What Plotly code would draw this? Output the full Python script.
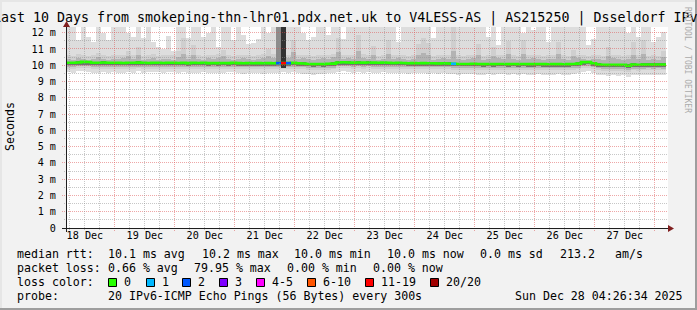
import math
import plotly.graph_objects as go
import pandas as pd

# ------------------------------------------------------------------ data
series_start = "2025-12-18 04:26:34"
bin_hours = 2   # each value below covers 2 hours (120 bins = 10 days)

# outermost smoke (min .. max of the 20 pings), ms
smoke_max = [
    12.6, 12.6, 11.55, 12.6, 11.75, 11.4, 12.6, 12.0, 11.55, 12.6,
    12.6, 12.6, 12.0, 11.75, 12.6, 11.7, 12.6, 11.4, 11.1, 11.0,
    11.8, 10.9, 12.6, 12.6, 11.7, 12.6, 12.6, 11.75, 12.0, 12.6,
    11.1, 12.6, 12.6, 11.55, 12.6, 11.85, 11.3, 11.35, 11.6, 12.6,
    12.0, 12.6, 12.6, 12.6, 12.6, 12.6, 12.6, 12.0, 11.55, 11.75,
    12.6, 12.6, 11.85, 12.6, 12.6, 11.6, 12.6, 12.6, 12.6, 12.6,
    12.6, 12.6, 12.6, 12.6, 12.6, 12.6, 11.4, 12.6, 12.6, 12.6,
    12.6, 12.6, 12.6, 11.7, 12.6, 12.6, 12.6, 12.6, 12.6, 12.6,
    12.6, 12.6, 12.6, 12.6, 11.75, 12.6, 11.25, 12.6, 12.6, 12.6,
    12.6, 12.0, 12.6, 12.15, 12.6, 12.6, 11.4, 12.6, 12.6, 12.6,
    12.6, 12.6, 12.6, 12.6, 11.25, 11.6, 12.6, 12.6, 12.6, 12.6,
    12.6, 12.6, 12.0, 12.6, 11.75, 12.6, 12.6, 11.4, 11.75, 12.05,
]
smoke_min = [
    9.6, 9.55, 9.62, 9.65, 9.58, 9.5, 9.55, 9.6, 9.52, 9.6,
    9.55, 9.5, 9.6, 9.55, 9.62, 9.5, 9.56, 9.6, 9.58, 9.5,
    9.6, 9.58, 9.5, 9.6, 9.55, 9.52, 9.5, 9.6, 9.55, 9.52,
    9.55, 9.5, 9.58, 9.6, 9.5, 9.45, 9.55, 9.5, 9.52, 9.48,
    9.55, 9.5, 9.55, 9.6, 9.52, 9.58, 9.5, 9.48, 9.45, 9.42,
    9.48, 9.45, 9.5, 9.52, 9.6, 9.62, 9.6, 9.55, 9.6, 9.55,
    9.6, 9.55, 9.52, 9.58, 9.55, 9.5, 9.55, 9.52, 9.48, 9.5,
    9.5, 9.52, 9.48, 9.5, 9.45, 9.5, 9.48, 9.45, 9.42, 9.45,
    9.45, 9.48, 9.42, 9.4, 9.45, 9.42, 9.45, 9.48, 9.42, 9.45,
    9.42, 9.45, 9.4, 9.42, 9.45, 9.4, 9.38, 9.42, 9.45, 9.4,
    9.42, 9.45, 9.5, 9.6, 9.62, 9.5, 9.4, 9.38, 9.35, 9.38,
    9.35, 9.38, 9.3, 9.4, 9.38, 9.4, 9.42, 9.4, 9.42, 9.4,
]
# second smoke band
smoke_hi2 = [
    10.6, 10.55, 10.7, 10.6, 10.55, 10.65, 10.75, 10.6, 10.55, 10.6,
    10.6, 10.65, 10.9, 10.6, 11.1, 10.55, 10.6, 10.7, 10.55, 10.6,
    10.65, 10.6, 10.9, 11.65, 10.6, 11.25, 10.6, 10.55, 10.65, 10.6,
    10.7, 10.95, 10.6, 10.55, 10.6, 10.65, 10.6, 10.55, 10.6, 10.7,
    11.0, 10.7, 10.7, 10.7, 10.65, 11.55, 10.6, 10.65, 10.6, 10.55,
    10.6, 10.65, 10.6, 10.7, 11.7, 10.6, 10.65, 10.6, 11.85, 10.7,
    10.6, 11.2, 10.55, 10.6, 11.55, 10.6, 10.65, 10.6, 10.55, 10.6,
    11.3, 11.7, 11.35, 10.55, 10.6, 10.65, 10.6, 12.6, 10.6, 10.55,
    10.6, 10.65, 11.3, 10.55, 10.6, 11.1, 10.65, 10.6, 11.5, 10.6,
    10.55, 11.55, 10.6, 10.65, 10.6, 10.55, 10.6, 10.6, 11.4, 10.6,
    10.55, 10.95, 10.65, 10.6, 10.55, 10.6, 10.6, 10.55, 11.1, 10.65,
    10.6, 10.55, 10.6, 11.4, 10.6, 11.55, 10.55, 10.6, 10.55, 10.9,
]
smoke_lo2 = [
    9.8, 9.78, 9.82, 9.84, 9.82, 9.79, 9.78, 9.8, 9.79, 9.8,
    9.79, 9.78, 9.8, 9.79, 9.81, 9.78, 9.79, 9.8, 9.8, 9.78,
    9.8, 9.8, 9.78, 9.8, 9.77, 9.79, 9.78, 9.8, 9.77, 9.78,
    9.77, 9.78, 9.78, 9.8, 9.77, 9.76, 9.78, 9.76, 9.77, 9.76,
    9.78, 9.76, 9.77, 9.78, 9.77, 9.8, 9.76, 9.75, 9.72, 9.71,
    9.72, 9.71, 9.73, 9.74, 9.82, 9.83, 9.82, 9.8, 9.82, 9.8,
    9.82, 9.8, 9.79, 9.8, 9.79, 9.78, 9.79, 9.78, 9.76, 9.77,
    9.76, 9.77, 9.76, 9.76, 9.75, 9.76, 9.75, 9.73, 9.72, 9.72,
    9.72, 9.73, 9.72, 9.71, 9.72, 9.71, 9.72, 9.72, 9.71, 9.72,
    9.71, 9.72, 9.71, 9.71, 9.72, 9.71, 9.7, 9.71, 9.71, 9.7,
    9.71, 9.72, 9.74, 9.83, 9.84, 9.76, 9.69, 9.67, 9.66, 9.67,
    9.66, 9.67, 9.6, 9.68, 9.67, 9.68, 9.69, 9.68, 9.69, 9.68,
]
# third smoke band
smoke_hi3 = [
    10.4, 10.35, 10.45, 10.4, 10.35, 10.4, 10.5, 10.4, 10.35, 10.4,
    10.4, 10.45, 10.55, 10.4, 10.6, 10.35, 10.4, 10.45, 10.35, 10.4,
    10.4, 10.35, 10.5, 10.7, 10.4, 10.6, 10.4, 10.35, 10.45, 10.4,
    10.45, 10.55, 10.4, 10.35, 10.4, 10.45, 10.4, 10.35, 10.4, 10.45,
    10.55, 10.45, 10.45, 10.5, 10.45, 10.8, 10.4, 10.45, 10.4, 10.35,
    10.4, 10.45, 10.4, 10.5, 10.8, 10.4, 10.45, 10.4, 10.9, 10.45,
    10.4, 10.6, 10.35, 10.4, 10.7, 10.4, 10.45, 10.4, 10.35, 10.4,
    10.6, 10.75, 10.6, 10.35, 10.4, 10.45, 10.4, 10.9, 10.4, 10.35,
    10.4, 10.45, 10.6, 10.35, 10.4, 10.55, 10.45, 10.4, 10.7, 10.4,
    10.35, 10.7, 10.4, 10.45, 10.4, 10.35, 10.4, 10.4, 10.7, 10.4,
    10.35, 10.55, 10.45, 10.4, 10.35, 10.4, 10.4, 10.35, 10.55, 10.45,
    10.4, 10.35, 10.4, 10.65, 10.4, 10.7, 10.35, 10.4, 10.35, 10.5,
]
smoke_lo3 = [
    9.92, 9.9, 9.93, 9.95, 9.94, 9.91, 9.9, 9.92, 9.91, 9.92,
    9.91, 9.9, 9.92, 9.91, 9.92, 9.9, 9.9, 9.91, 9.92, 9.9,
    9.91, 9.92, 9.9, 9.91, 9.89, 9.91, 9.9, 9.92, 9.89, 9.9,
    9.89, 9.9, 9.9, 9.91, 9.89, 9.88, 9.9, 9.88, 9.89, 9.88,
    9.9, 9.88, 9.89, 9.9, 9.89, 9.91, 9.88, 9.87, 9.84, 9.83,
    9.84, 9.83, 9.85, 9.86, 9.93, 9.94, 9.93, 9.92, 9.93, 9.92,
    9.93, 9.92, 9.91, 9.92, 9.91, 9.9, 9.91, 9.9, 9.88, 9.89,
    9.88, 9.89, 9.88, 9.88, 9.87, 9.88, 9.87, 9.85, 9.84, 9.84,
    9.84, 9.85, 9.84, 9.83, 9.84, 9.83, 9.84, 9.84, 9.83, 9.84,
    9.83, 9.84, 9.83, 9.83, 9.84, 9.83, 9.82, 9.83, 9.83, 9.82,
    9.83, 9.84, 9.86, 9.95, 9.96, 9.88, 9.81, 9.79, 9.78, 9.79,
    9.78, 9.79, 9.73, 9.8, 9.79, 9.8, 9.81, 9.8, 9.81, 9.8,
]
# dark core around the median
smoke_hi4 = [
    10.22, 10.22, 10.24, 10.28, 10.27, 10.22, 10.23, 10.24, 10.22, 10.22,
    10.22, 10.21, 10.23, 10.22, 10.24, 10.22, 10.21, 10.22, 10.22, 10.21,
    10.22, 10.22, 10.21, 10.23, 10.2, 10.22, 10.21, 10.22, 10.2, 10.21,
    10.2, 10.22, 10.2, 10.22, 10.2, 10.19, 10.2, 10.19, 10.2, 10.19,
    10.21, 10.19, 10.2, 10.2, 10.2, 10.23, 10.19, 10.18, 10.15, 10.14,
    10.15, 10.14, 10.16, 10.17, 10.25, 10.25, 10.24, 10.23, 10.25, 10.23,
    10.24, 10.23, 10.22, 10.23, 10.22, 10.21, 10.22, 10.21, 10.19, 10.2,
    10.19, 10.2, 10.19, 10.19, 10.18, 10.19, 10.18, 10.16, 10.15, 10.15,
    10.15, 10.16, 10.15, 10.14, 10.15, 10.14, 10.15, 10.15, 10.14, 10.15,
    10.14, 10.15, 10.14, 10.14, 10.15, 10.14, 10.13, 10.14, 10.14, 10.13,
    10.14, 10.15, 10.17, 10.26, 10.27, 10.19, 10.12, 10.1, 10.09, 10.1,
    10.09, 10.1, 10.05, 10.11, 10.1, 10.11, 10.12, 10.11, 10.12, 10.11,
]
smoke_lo4 = [
    10.0, 10.0, 10.01, 10.04, 10.03, 10.0, 9.99, 10.01, 10.0, 10.0,
    10.0, 9.99, 10.0, 10.0, 10.01, 10.0, 9.99, 10.0, 10.0, 9.99,
    10.0, 10.0, 9.99, 10.0, 9.98, 10.0, 9.99, 10.0, 9.98, 9.99,
    9.98, 9.99, 9.98, 10.0, 9.98, 9.97, 9.98, 9.97, 9.98, 9.97,
    9.98, 9.97, 9.98, 9.98, 9.98, 10.0, 9.97, 9.96, 9.93, 9.92,
    9.93, 9.92, 9.94, 9.95, 10.02, 10.03, 10.02, 10.01, 10.02, 10.01,
    10.02, 10.01, 10.0, 10.01, 10.0, 9.99, 10.0, 9.99, 9.97, 9.98,
    9.97, 9.98, 9.97, 9.97, 9.96, 9.97, 9.96, 9.94, 9.93, 9.93,
    9.93, 9.94, 9.93, 9.92, 9.93, 9.92, 9.93, 9.93, 9.92, 9.93,
    9.92, 9.93, 9.92, 9.92, 9.93, 9.92, 9.91, 9.92, 9.92, 9.91,
    9.92, 9.93, 9.95, 10.04, 10.05, 9.97, 9.9, 9.88, 9.87, 9.88,
    9.87, 9.88, 9.82, 9.89, 9.88, 9.89, 9.9, 9.89, 9.9, 9.89,
]
median_rtt = [
    10.15, 10.15, 10.17, 10.21, 10.2, 10.15, 10.15, 10.17, 10.15, 10.15,
    10.15, 10.14, 10.15, 10.15, 10.16, 10.15, 10.14, 10.15, 10.15, 10.14,
    10.15, 10.15, 10.14, 10.15, 10.13, 10.15, 10.14, 10.15, 10.13, 10.14,
    10.13, 10.14, 10.13, 10.15, 10.13, 10.12, 10.13, 10.12, 10.13, 10.12,
    10.13, 10.12, 10.13, 10.13, 10.13, 10.15, 10.12, 10.11, 10.08, 10.07,
    10.08, 10.07, 10.09, 10.1, 10.17, 10.18, 10.17, 10.16, 10.17, 10.16,
    10.17, 10.16, 10.15, 10.16, 10.15, 10.14, 10.15, 10.14, 10.12, 10.13,
    10.12, 10.13, 10.12, 10.12, 10.11, 10.12, 10.11, 10.09, 10.08, 10.08,
    10.08, 10.09, 10.08, 10.07, 10.08, 10.07, 10.08, 10.08, 10.07, 10.08,
    10.07, 10.08, 10.07, 10.07, 10.08, 10.07, 10.06, 10.07, 10.07, 10.06,
    10.07, 10.08, 10.1, 10.19, 10.2, 10.12, 10.05, 10.03, 10.02, 10.03,
    10.02, 10.03, 9.97, 10.04, 10.03, 10.04, 10.05, 10.04, 10.05, 10.04,
]
# lost pings (of 20) per bin
loss_count = [
    0, 0, 0, 0, 0, 0, 0, 0, 0, 0,
    0, 0, 0, 0, 0, 0, 0, 0, 0, 0,
    0, 0, 0, 0, 0, 0, 0, 0, 0, 0,
    0, 0, 0, 0, 0, 0, 0, 0, 0, 0,
    0, 0, 2, 15, 2, 0, 0, 0, 0, 0,
    0, 0, 0, 0, 0, 0, 0, 0, 0, 0,
    0, 0, 0, 0, 0, 0, 0, 0, 0, 0,
    0, 0, 0, 0, 0, 0, 0, 1, 0, 0,
    0, 0, 0, 0, 0, 0, 0, 0, 0, 0,
    0, 0, 0, 0, 0, 0, 0, 0, 0, 0,
    0, 0, 0, 0, 0, 0, 0, 0, 0, 0,
    0, 0, 0, 0, 0, 0, 0, 0, 0, 0,
]
# loss smoke columns (bins with heavy loss)
loss_smoke_bins = [42, 43]
loss_smoke_lo = [9.95, 9.85]
loss_smoke_hi = [12.6, 12.6]

day_tick_noons = ["2025-12-%02d 12:00" % d for d in range(18, 28)]
day_tick_labels = ["18 Dec", "19 Dec", "20 Dec", "21 Dec", "22 Dec",
                   "23 Dec", "24 Dec", "25 Dec", "26 Dec", "27 Dec"]
y_tick_values = [0, 1, 2, 3, 4, 5, 6, 7, 8, 9, 10, 11, 12]
y_tick_labels = ["0", "1 m", "2 m", "3 m", "4 m", "5 m", "6 m", "7 m",
                 "8 m", "9 m", "10 m", "11 m", "12 m"]

title_text = ("Last 10 Days from smokeping-thn-lhr01.pdx.net.uk to "
              "V4LESS-AS | AS215250 | Dsseldorf IPv6")
legend_row1 = ["median rtt:", "10.1 ms avg", "10.2 ms max", "10.0 ms min",
               "10.0 ms now", "0.0 ms sd", "213.2", "am/s"]
legend_row2 = ["packet loss:", "0.66 % avg", "79.95 % max", "0.00 % min",
               "0.00 % now"]
loss_legend_labels = ["0", "1", "2", "3", "4-5", "6-10", "11-19", "20/20"]
probe_text = ["probe:", "20 IPv6-ICMP Echo Pings (56 Bytes) every 300s",
              "Sun Dec 28 04:26:34 2025"]

# ------------------------------------------------------------------ style
W_IMG, H_IMG = 697, 310
PL, PR, PT, PB = 66, 668, 27, 228
PW, PH = PR - PL, PB - PT
Y_TOP = 12.35
FONT = "DejaVu Sans Mono"
BG = "#f2f2f2"
SMOKE_COLORS = ["#dddddd", "#cfcfcf", "#b3b3b3", "#727272"]
LOSS_SMOKE_COLORS = ["#8c8c8c", "#333333"]
LOSS_COLORS = ["#26ff00", "#00b8ff", "#0059ff", "#7e00ff",
               "#ff00ff", "#ff5500", "#ff0000", "#a10000"]
MGRID = "rgba(222,79,79,0.5)"
GRID = "rgba(143,143,143,0.5)"
AXIS = "#1f1f1f"
ARROW = "#801f1f"
MS_PER_PX = 24 * 60 * 1000  # 10 days over 600 px


def loss_color(n):
    if n == 0:
        return LOSS_COLORS[0]
    if n <= 3:
        return LOSS_COLORS[n]
    if n <= 5:
        return LOSS_COLORS[4]
    if n <= 10:
        return LOSS_COLORS[5]
    if n <= 19:
        return LOSS_COLORS[6]
    return LOSS_COLORS[7]


def px(x):
    return (x - PL) / PW


def py(y):
    return (PB - y) / PH


def snap(p):
    return math.floor(p) + 0.5


t0 = pd.Timestamp(series_start)
step = pd.Timedelta(hours=bin_hours)
n = len(median_rtt)
edges = [t0 + i * step for i in range(n + 1)]
centers = [t0 + (i + 0.5) * step for i in range(n)]
bin_ms = bin_hours * 3600 * 1000
x_end = t0 + pd.Timedelta(milliseconds=MS_PER_PX * PW)


def value_to_py(v):
    return PB - v * PH / Y_TOP


def time_to_px(t):
    return PL + (t - t0).total_seconds() * 1000 / MS_PER_PX


fig = go.Figure()

layers = [(smoke_min, smoke_max), (smoke_lo2, smoke_hi2),
          (smoke_lo3, smoke_hi3), (smoke_lo4, smoke_hi4)]
for (lo, hi), col in zip(layers, SMOKE_COLORS):
    fig.add_trace(go.Bar(
        x=centers, y=[h - l for l, h in zip(lo, hi)], base=lo, width=bin_ms,
        marker=dict(color=col, line=dict(width=0)), hoverinfo="skip",
        showlegend=False))

fig.add_trace(go.Bar(
    x=[centers[b] for b in loss_smoke_bins],
    y=[h - l for l, h in zip(loss_smoke_lo, loss_smoke_hi)],
    base=loss_smoke_lo, width=bin_ms,
    marker=dict(color=LOSS_SMOKE_COLORS, line=dict(width=0)),
    hoverinfo="skip", showlegend=False))

# median line (green), then loss-coloured segments on top
fig.add_trace(go.Scatter(
    x=edges, y=median_rtt + [median_rtt[-1]], mode="lines",
    line=dict(color=LOSS_COLORS[0], width=2.6, shape="hv"),
    hoverinfo="skip", showlegend=False))
seg = {}
for i, lc in enumerate(loss_count):
    if lc > 0:
        c = loss_color(lc)
        xs, ys = seg.setdefault(c, ([], []))
        xs += [edges[i], edges[i + 1], None]
        ys += [median_rtt[i], median_rtt[i], None]
for c, (xs, ys) in seg.items():
    fig.add_trace(go.Scatter(x=xs, y=ys, mode="lines",
                             line=dict(color=c, width=2.6),
                             hoverinfo="skip", showlegend=False))

shapes = []
DASH = "1px,1px"
# horizontal grid (minor then major), snapped to pixel rows
for v in y_tick_values[:-1]:
    yy = py(snap(value_to_py(v + 0.5)))
    shapes.append(dict(type="line", xref="paper", yref="paper", layer="above",
                       x0=px(64), x1=1, y0=yy, y1=yy,
                       line=dict(color=GRID, width=1, dash=DASH)))
for v in y_tick_values[1:]:
    yy = py(snap(value_to_py(v)))
    shapes.append(dict(type="line", xref="paper", yref="paper", layer="above",
                       x0=px(62), x1=1, y0=yy, y1=yy,
                       line=dict(color=MGRID, width=1, dash=DASH)))
# vertical grid: every 6 h minor, midnight major
day0 = pd.Timestamp("2025-12-18 00:00")
for k in range(1, 41):
    t = day0 + pd.Timedelta(hours=6 * k)
    if t <= t0 or t >= x_end:
        continue
    major = (k % 4 == 0)
    xx = px(snap(time_to_px(t)))
    shapes.append(dict(type="line", xref="paper", yref="paper", layer="above",
                       x0=xx, x1=xx, y0=py(231 if major else 230), y1=1,
                       line=dict(color=MGRID if major else GRID, width=1,
                                 dash=DASH)))
# axes with arrows
shapes.append(dict(type="line", xref="paper", yref="paper", layer="above",
                   x0=px(62), x1=px(670), y0=py(228.5), y1=py(228.5),
                   line=dict(color=AXIS, width=1)))
shapes.append(dict(type="line", xref="paper", yref="paper", layer="above",
                   x0=px(66.5), x1=px(66.5), y0=py(232), y1=py(25),
                   line=dict(color=AXIS, width=1)))
shapes.append(dict(type="path", xref="paper", yref="paper", layer="above",
                   path="M %f %f L %f %f L %f %f Z" % (
                       px(668), py(225), px(674), py(228.5), px(668), py(232)),
                   fillcolor=ARROW, line=dict(width=0)))
shapes.append(dict(type="path", xref="paper", yref="paper", layer="above",
                   path="M %f %f L %f %f L %f %f Z" % (
                       px(63), py(27), px(66.5), py(21), px(70), py(27)),
                   fillcolor=ARROW, line=dict(width=0)))
# 3d border
shapes.append(dict(type="rect", xref="paper", yref="paper", layer="above",
                   x0=px(0), x1=px(W_IMG), y0=py(0), y1=py(2),
                   fillcolor="#e6e6e6", line=dict(width=0)))
shapes.append(dict(type="rect", xref="paper", yref="paper", layer="above",
                   x0=px(0), x1=px(2), y0=py(0), y1=py(H_IMG),
                   fillcolor="#e6e6e6", line=dict(width=0)))
shapes.append(dict(type="rect", xref="paper", yref="paper", layer="above",
                   x0=px(0), x1=px(W_IMG), y0=py(H_IMG - 2), y1=py(H_IMG),
                   fillcolor="#9e9e9e", line=dict(width=0)))
shapes.append(dict(type="rect", xref="paper", yref="paper", layer="above",
                   x0=px(W_IMG - 2), x1=px(W_IMG), y0=py(0), y1=py(H_IMG),
                   fillcolor="#9e9e9e", line=dict(width=0)))

annotations = []


def text(s, x, y, size=11.6, anchor="left", color="#000000", angle=0):
    annotations.append(dict(text=s, x=px(x), y=py(y), xref="paper",
                            yref="paper", xanchor=anchor, yanchor="middle",
                            showarrow=False, borderpad=0, textangle=angle,
                            font=dict(family=FONT, size=size, color=color)))


text(title_text, 348.5, 18, size=13.3, anchor="center")
text("Seconds", 10, 127, size=11.6, anchor="center", angle=-90)
text("RRDTOOL / TOBI OETIKER", 688, 60, size=8, anchor="center",
     color="#aaaaaa", angle=90)

row1_x = [16, 107, 201, 293, 386, 479, 559, 614]
for s, x in zip(legend_row1, row1_x):
    text(s, x, 254)
row2_x = [16, 107, 193, 286, 372]
for s, x in zip(legend_row2, row2_x):
    text(s, x, 268)
text("loss color:", 16, 282)
box_x = [108, 146, 182, 219, 256, 307, 365, 430]
for s, bx, col in zip(loss_legend_labels, box_x, LOSS_COLORS):
    shapes.append(dict(type="rect", xref="paper", yref="paper", layer="above",
                       x0=px(bx + 0.5), x1=px(bx + 8.5), y0=py(278.5),
                       y1=py(286.5), fillcolor=col,
                       line=dict(color="#000000", width=1)))
    text(s, bx + 15, 282)
for s, x in zip(probe_text, [16, 107, 514]):
    text(s, x, 296)

fig.update_layout(
    width=W_IMG, height=H_IMG, template="none",
    paper_bgcolor=BG, plot_bgcolor="#ffffff",
    margin=dict(l=PL, r=W_IMG - PR, t=PT, b=H_IMG - PB, pad=0),
    barmode="overlay", bargap=0, showlegend=False,
    shapes=shapes, annotations=annotations,
    xaxis=dict(type="date", range=[t0, x_end], tickvals=day_tick_noons,
               ticktext=day_tick_labels, showgrid=False, zeroline=False,
               showline=False, ticks="", automargin=False, fixedrange=True,
               tickfont=dict(family=FONT, size=10.15, color="#000000")),
    yaxis=dict(range=[0, Y_TOP], tickvals=y_tick_values,
               ticktext=y_tick_labels, showgrid=False, zeroline=False,
               showline=False, ticks="outside", ticklen=7,
               tickcolor="rgba(0,0,0,0)", automargin=False, fixedrange=True,
               tickfont=dict(family=FONT, size=10.15, color="#000000")),
)

fig.write_html("out.html", config={"displayModeBar": False})
